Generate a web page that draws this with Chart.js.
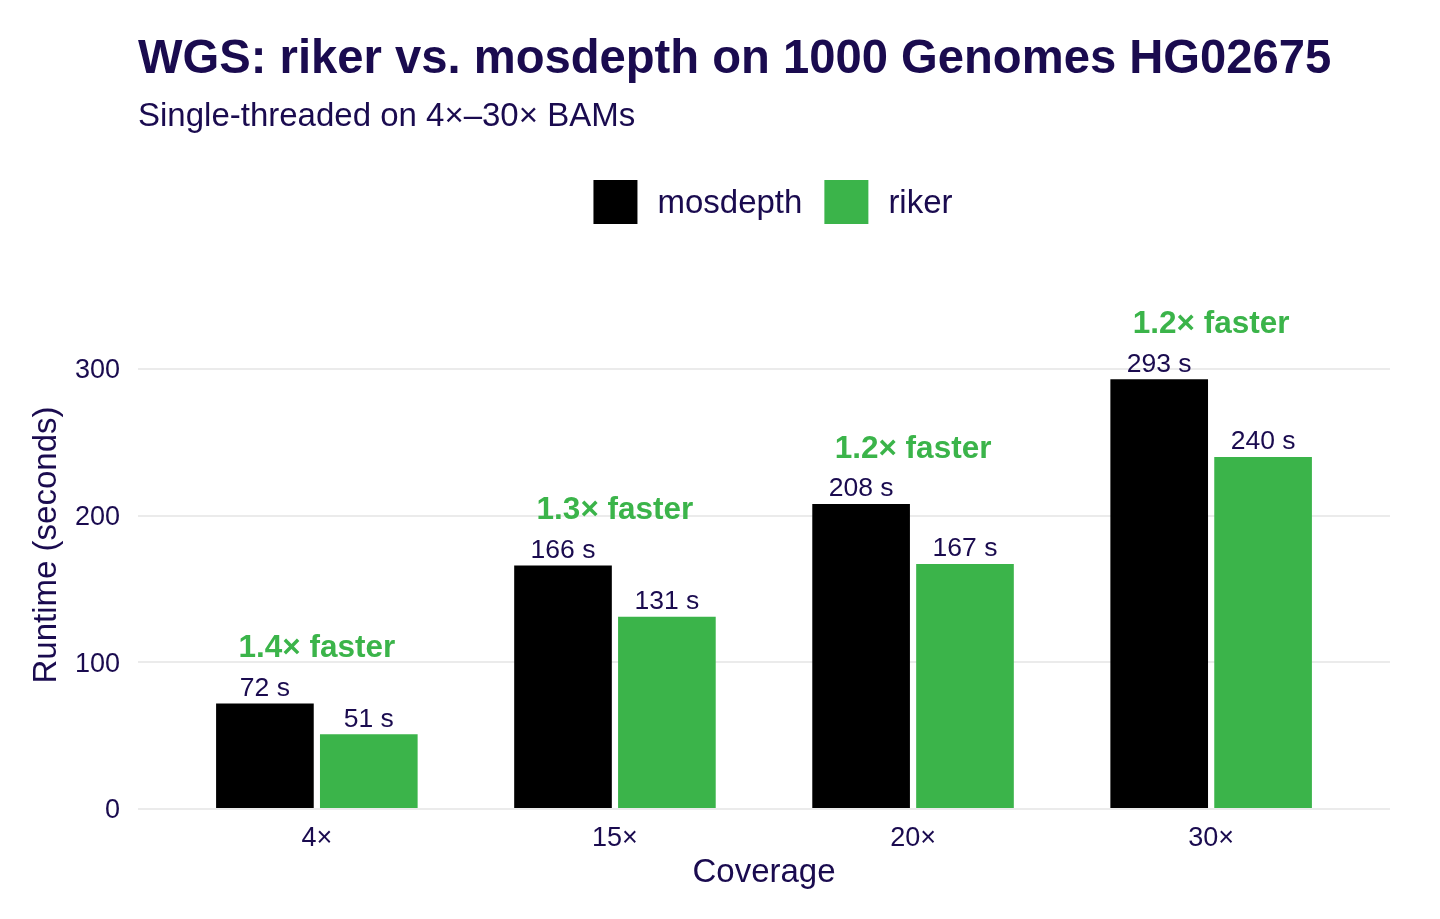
<!DOCTYPE html>
<html>
<head>
<meta charset="utf-8">
<script src="https://cdn.jsdelivr.net/npm/chart.js@4"></script>
<style>
  html, body { margin: 0; padding: 0; background: #ffffff; }
  #wrap { width: 1440px; height: 919px; }
</style>
</head>
<body>
<div id="wrap"><canvas id="c" width="1440" height="919"></canvas></div>
<script>
const categories = ['4×', '15×', '20×', '30×'];
const mosdepth = [72, 166, 208, 293];
const riker = [51, 131, 167, 240];
const speedupLabels = ['1.4× faster', '1.3× faster', '1.2× faster', '1.2× faster'];
const yTicks = [0, 100, 200, 300];

const TEXT = '#1a0b4f';
const GREEN = '#3bb44a';
const FONT = "'Liberation Sans', Arial, Helvetica, sans-serif";

const decor = {
  id: 'decor',
  afterDatasetsDraw(chart) {
    const ctx = chart.ctx;
    ctx.save();
    ctx.textAlign = 'center';
    ctx.textBaseline = 'middle';
    ctx.font = '26.5px ' + FONT;
    ctx.fillStyle = TEXT;
    chart.data.datasets.forEach((ds, di) => {
      const meta = chart.getDatasetMeta(di);
      meta.data.forEach((bar, i) => {
        ctx.fillText(ds.data[i].y + ' s', bar.x, bar.y - 15);
      });
    });
    ctx.font = 'bold 31.5px ' + FONT;
    ctx.fillStyle = GREEN;
    const m0 = chart.getDatasetMeta(0), m1 = chart.getDatasetMeta(1);
    categories.forEach((c, i) => {
      const cx = chart.scales.x.getPixelForValue(i);
      const top = Math.min(m0.data[i].y, m1.data[i].y);
      ctx.fillText(speedupLabels[i], cx, top - 55);
    });
    ctx.restore();
  },
  afterDraw(chart) {
    const ctx = chart.ctx;
    const area = chart.chartArea;
    ctx.save();
    ctx.fillStyle = TEXT;
    ctx.textAlign = 'left';
    ctx.textBaseline = 'alphabetic';
    ctx.font = 'bold 47.2px ' + FONT;
    ctx.fillText('WGS: riker vs. mosdepth on 1000 Genomes HG02675', area.left, 73);
    ctx.font = '33px ' + FONT;
    ctx.fillText('Single-threaded on 4×–30× BAMs', area.left, 126);
    ctx.font = '33px ' + FONT;
    const items = chart.data.datasets.map(d => ({label: d.label, color: d.backgroundColor}));
    const box = 44, gapText = 20, gapItem = 22;
    let total = 0;
    items.forEach((it, k) => {
      it.w = ctx.measureText(it.label).width;
      total += box + gapText + it.w + (k < items.length - 1 ? gapItem : 0);
    });
    let x = (area.left + area.right) / 2 + 9 - total / 2;
    const cy = 202;
    ctx.textBaseline = 'middle';
    items.forEach(it => {
      ctx.fillStyle = it.color;
      ctx.fillRect(x, cy - box / 2, box, box);
      x += box + gapText;
      ctx.fillStyle = TEXT;
      ctx.fillText(it.label, x, cy + 2);
      x += it.w + gapItem;
    });
    ctx.restore();
  }
};

new Chart(document.getElementById('c'), {
  type: 'bar',
  data: {
    datasets: [
      { label: 'mosdepth', data: mosdepth.map((v, i) => ({x: i, y: v})), backgroundColor: '#000000',
        categoryPercentage: 0.697, barPercentage: 0.94 },
      { label: 'riker', data: riker.map((v, i) => ({x: i, y: v})), backgroundColor: GREEN,
        categoryPercentage: 0.697, barPercentage: 0.94 }
    ]
  },
  options: {
    responsive: false,
    animation: false,
    devicePixelRatio: 1,
    layout: { padding: { left: 20, right: 50, top: 281, bottom: 10 } },
    plugins: {
      legend: { display: false },
      tooltip: { enabled: false },
      title: { display: false }
    },
    scales: {
      x: {
        type: 'linear',
        min: -0.6,
        max: 3.6,
        offset: false,
        afterBuildTicks(s) { s.ticks = categories.map((c, i) => ({value: i})); },
        afterFit(s) { s.height = 100; },
        grid: { display: false, drawTicks: false },
        border: { display: false },
        ticks: {
          callback: (v) => categories[v],
          color: TEXT,
          font: { family: FONT, size: 27 },
          padding: 13,
          maxRotation: 0,
          autoSkip: false
        },
        title: {
          display: true, text: 'Coverage', color: TEXT,
          font: { family: FONT, size: 33, lineHeight: 1.2 },
          padding: { top: 0, bottom: 16 }
        }
      },
      y: {
        min: 0,
        max: 360,
        afterBuildTicks(s) { s.ticks = yTicks.map(v => ({value: v})); },
        afterFit(s) { s.width = 118; },
        grid: { color: '#ebebeb', lineWidth: 2, drawTicks: false },
        border: { display: false },
        ticks: {
          color: TEXT,
          font: { family: FONT, size: 27 },
          padding: 18,
          labelOffset: 2
        },
        title: {
          display: true, text: 'Runtime (seconds)', color: TEXT,
          font: { family: FONT, size: 33, lineHeight: 1.2 },
          padding: { top: 7, bottom: 0 }
        }
      }
    }
  },
  plugins: [decor]
});
</script>
</body>
</html>
